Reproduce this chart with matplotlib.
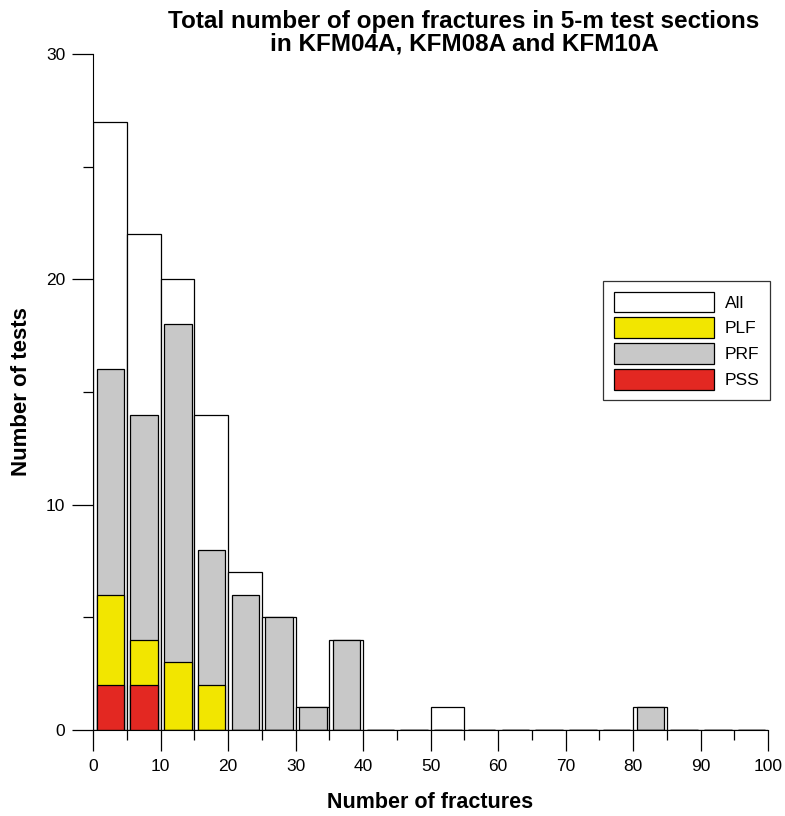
import numpy as np
import matplotlib.pyplot as plt
from matplotlib.patches import Patch
from matplotlib.ticker import MultipleLocator

# lower edge of each 5-fracture bin
bin_start = [0, 5, 10, 15, 20, 25, 30, 35, 40, 45, 50, 55, 60, 65, 70, 75, 80, 85, 90, 95]
n_all = [27, 22, 20, 14, 7, 5, 1, 4, 0, 0, 1, 0, 0, 0, 0, 0, 1, 0, 0, 0]
n_prf = [16, 14, 18, 8, 6, 5, 1, 4, 0, 0, 0, 0, 0, 0, 0, 0, 1, 0, 0, 0]
n_plf = [6, 4, 3, 2, 0, 0, 0, 0, 0, 0, 0, 0, 0, 0, 0, 0, 0, 0, 0, 0]
n_pss = [2, 2, 0, 0, 0, 0, 0, 0, 0, 0, 0, 0, 0, 0, 0, 0, 0, 0, 0, 0]

plt.rcParams["font.family"] = ["Liberation Sans", "DejaVu Sans"]

fig = plt.figure(figsize=(7.85, 8.16), dpi=100)
ax = fig.add_axes([93 / 785, 1 - 730 / 816, 675 / 785, 676 / 816])

x = np.array(bin_start, dtype=float)
ec = dict(edgecolor="black", linewidth=0.9, align="edge")
ax.bar(x, n_all, width=5, color="white", **ec)
ax.bar(x + 0.55, n_prf, width=4.05, color="#c8c8c8", **ec)
ax.bar(x + 0.55, n_plf, width=4.05, color="#f2e600", **ec)
ax.bar(x + 0.55, n_pss, width=4.05, color="#e32822", **ec)

ax.set_xlim(0, 100)
ax.set_ylim(0, 30)
ax.spines["top"].set_visible(False)
ax.spines["right"].set_visible(False)
ax.xaxis.set_major_locator(MultipleLocator(10))
ax.xaxis.set_minor_locator(MultipleLocator(5))
ax.yaxis.set_major_locator(MultipleLocator(10))
ax.yaxis.set_minor_locator(MultipleLocator(5))
ax.tick_params(which="major", direction="out", length=15, width=0.9, labelsize=12.5)
ax.tick_params(which="minor", direction="out", length=7, width=0.9)
ax.tick_params(axis="x", which="major", pad=6)
ax.tick_params(axis="y", which="major", pad=5)

ax.set_xlabel("Number of fractures", fontsize=15.5, fontweight="bold", labelpad=13)
ax.set_ylabel("Number of tests", fontsize=16, fontweight="bold", labelpad=10)

fig.text(464 / 785, 1 - 33 / 816,
         "Total number of open fractures in 5-m test sections\nin KFM04A, KFM08A and KFM10A",
         ha="center", va="center", fontsize=17.5, fontweight="bold", linespacing=1.0)

handles = [
    Patch(facecolor="white", edgecolor="black", linewidth=0.9, label="All"),
    Patch(facecolor="#f2e600", edgecolor="black", linewidth=0.9, label="PLF"),
    Patch(facecolor="#c8c8c8", edgecolor="black", linewidth=0.9, label="PRF"),
    Patch(facecolor="#e32822", edgecolor="black", linewidth=0.9, label="PSS"),
]
leg = ax.legend(handles=handles, loc="upper left", bbox_to_anchor=(0.756, 0.664),
                fontsize=12.5, frameon=True, fancybox=False, handlelength=5.75,
                handleheight=1.45, labelspacing=0.3, handletextpad=0.63,
                borderpad=0.6, borderaxespad=0)
leg.get_frame().set_edgecolor("black")
leg.get_frame().set_linewidth(0.9)

fig.savefig("out.png", dpi=100)
